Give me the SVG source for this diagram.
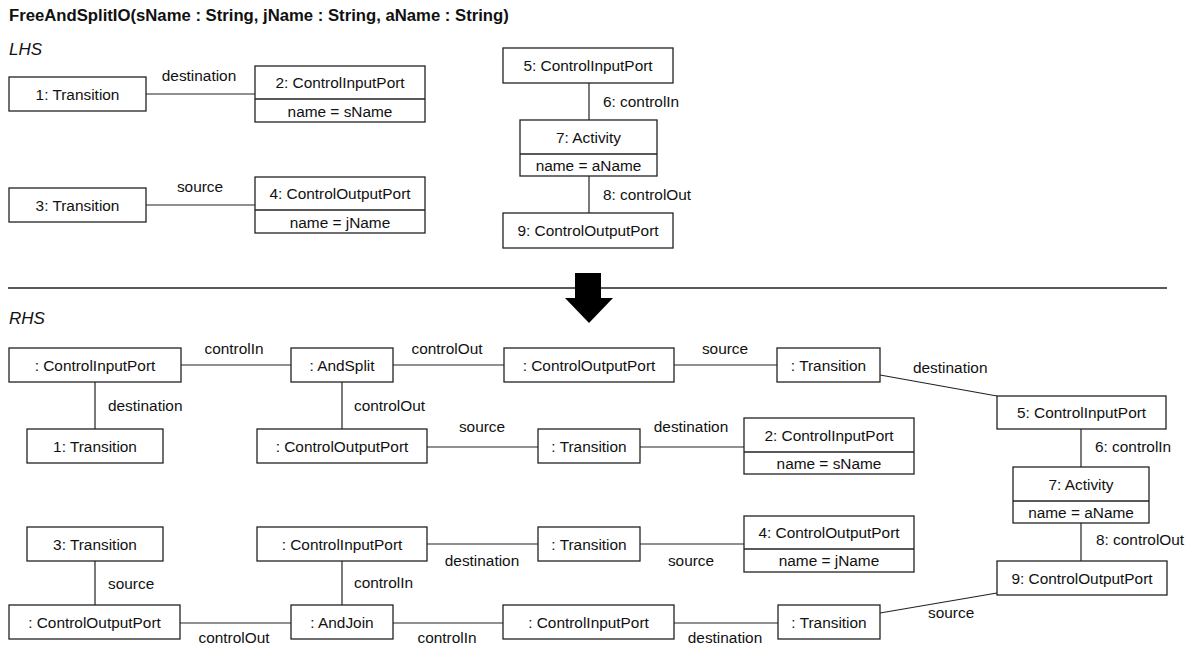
<svg xmlns="http://www.w3.org/2000/svg" width="1193" height="648" viewBox="0 0 1193 648">
<style>
text{font-family:"Liberation Sans",Arial,Helvetica,sans-serif;font-size:15.4px;fill:#111}
.t{text-anchor:middle}
.title{font-weight:bold;font-size:16.7px}
.sec{font-style:italic;font-size:17px}
rect{fill:#fff;stroke:#222;stroke-width:1.3}
.node line{stroke:#222;stroke-width:1.3}
#connectors line{stroke:#222;stroke-width:1.2}
</style>
<rect width="1193" height="648" style="fill:#fff;stroke:none"/>
<text x="9" y="21" class="title">FreeAndSplitIO(sName : String, jName : String, aName : String)</text>
<text x="9" y="55" class="sec">LHS</text>
<text x="9" y="324" class="sec">RHS</text>
<line x1="8" y1="288" x2="1167" y2="288" stroke="#222" stroke-width="1.3"/>
<polygon points="575,273 601,273 601,298 613,298 589,323 565,298 575,298" fill="#000"/>

<g id="connectors">
<line x1="146" y1="94" x2="255" y2="94"/>
<line x1="146" y1="205" x2="255" y2="205"/>
<line x1="589" y1="83" x2="589" y2="120"/>
<line x1="589" y1="176" x2="589" y2="213"/>
<line x1="181" y1="365" x2="291" y2="365"/>
<line x1="393" y1="365" x2="504" y2="365"/>
<line x1="674" y1="365" x2="777" y2="365"/>
<line x1="880" y1="375" x2="997" y2="396"/>
<line x1="95" y1="382" x2="95" y2="429"/>
<line x1="342" y1="382" x2="342" y2="429"/>
<line x1="427" y1="447" x2="538" y2="447"/>
<line x1="640" y1="447" x2="744" y2="447"/>
<line x1="1081" y1="429" x2="1081" y2="467"/>
<line x1="1081" y1="523" x2="1081" y2="561"/>
<line x1="95" y1="561" x2="95" y2="605"/>
<line x1="342" y1="561" x2="342" y2="605"/>
<line x1="427" y1="544" x2="538" y2="544"/>
<line x1="640" y1="544" x2="744" y2="544"/>
<line x1="180" y1="623" x2="291" y2="623"/>
<line x1="393" y1="623" x2="503" y2="623"/>
<line x1="674" y1="623" x2="778" y2="623"/>
<line x1="880" y1="613" x2="997" y2="593"/>
<text x="199" y="81" class="t">destination</text>
<text x="200" y="192" class="t">source</text>
<text x="603" y="107">6: controlIn</text>
<text x="603" y="200">8: controlOut</text>
<text x="234" y="354" class="t">controlIn</text>
<text x="447" y="354" class="t">controlOut</text>
<text x="725" y="354" class="t">source</text>
<text x="913" y="373">destination</text>
<text x="108" y="411">destination</text>
<text x="354" y="411">controlOut</text>
<text x="482" y="432" class="t">source</text>
<text x="691" y="432" class="t">destination</text>
<text x="1095" y="452">6: controlIn</text>
<text x="1096" y="545">8: controlOut</text>
<text x="108" y="589">source</text>
<text x="354" y="588">controlIn</text>
<text x="482" y="566" class="t">destination</text>
<text x="691" y="566" class="t">source</text>
<text x="234" y="643" class="t">controlOut</text>
<text x="447" y="643" class="t">controlIn</text>
<text x="725" y="643" class="t">destination</text>
<text x="928" y="618">source</text>
</g>

<g id="lhs1" class="node"><rect x="9" y="77" width="137" height="34"/><text x="77.5" y="99.5" class="t">1: Transition</text></g>
<g id="lhs2" class="node"><rect x="255" y="66" width="170" height="56"/><line x1="255" y1="99" x2="425" y2="99"/><text x="340" y="88" class="t">2: ControlInputPort</text><text x="340" y="116.5" class="t">name = sName</text></g>
<g id="lhs3" class="node"><rect x="9" y="188" width="137" height="34"/><text x="77.5" y="210.5" class="t">3: Transition</text></g>
<g id="lhs4" class="node"><rect x="255" y="177" width="170" height="56"/><line x1="255" y1="210" x2="425" y2="210"/><text x="340" y="199" class="t">4: ControlOutputPort</text><text x="340" y="227.5" class="t">name = jName</text></g>
<g id="lhs5" class="node"><rect x="503" y="48" width="170" height="35"/><text x="588" y="71" class="t">5: ControlInputPort</text></g>
<g id="lhs7" class="node"><rect x="520" y="120" width="137" height="56"/><line x1="520" y1="154" x2="657" y2="154"/><text x="588.5" y="142.5" class="t">7: Activity</text><text x="588.5" y="170.5" class="t">name = aName</text></g>
<g id="lhs9" class="node"><rect x="503" y="213" width="170" height="35"/><text x="588" y="236" class="t">9: ControlOutputPort</text></g>

<g id="rhs_cip1" class="node"><rect x="9" y="348" width="172" height="34"/><text x="95" y="370.5" class="t">: ControlInputPort</text></g>
<g id="rhs_andsplit" class="node"><rect x="291" y="348" width="102" height="34"/><text x="342" y="370.5" class="t">: AndSplit</text></g>
<g id="rhs_cop1" class="node"><rect x="504" y="348" width="170" height="34"/><text x="589" y="370.5" class="t">: ControlOutputPort</text></g>
<g id="rhs_tr1" class="node"><rect x="777" y="348" width="103" height="34"/><text x="828.5" y="370.5" class="t">: Transition</text></g>
<g id="rhs5" class="node"><rect x="997" y="396" width="169" height="33"/><text x="1081.5" y="418" class="t">5: ControlInputPort</text></g>
<g id="rhs1" class="node"><rect x="27" y="429" width="136" height="34"/><text x="95" y="451.5" class="t">1: Transition</text></g>
<g id="rhs_cop2" class="node"><rect x="257" y="429" width="170" height="34"/><text x="342" y="451.5" class="t">: ControlOutputPort</text></g>
<g id="rhs_tr2" class="node"><rect x="538" y="429" width="102" height="34"/><text x="589" y="451.5" class="t">: Transition</text></g>
<g id="rhs2" class="node"><rect x="744" y="418" width="170" height="56"/><line x1="744" y1="452" x2="914" y2="452"/><text x="829" y="440.5" class="t">2: ControlInputPort</text><text x="829" y="468.5" class="t">name = sName</text></g>
<g id="rhs7" class="node"><rect x="1013" y="467" width="136" height="56"/><line x1="1013" y1="501" x2="1149" y2="501"/><text x="1081" y="489.5" class="t">7: Activity</text><text x="1081" y="517.5" class="t">name = aName</text></g>
<g id="rhs9" class="node"><rect x="997" y="561" width="170" height="34"/><text x="1082" y="583.5" class="t">9: ControlOutputPort</text></g>
<g id="rhs3" class="node"><rect x="27" y="527" width="136" height="34"/><text x="95" y="549.5" class="t">3: Transition</text></g>
<g id="rhs_cip2" class="node"><rect x="257" y="527" width="170" height="34"/><text x="342" y="549.5" class="t">: ControlInputPort</text></g>
<g id="rhs_tr3" class="node"><rect x="538" y="527" width="102" height="34"/><text x="589" y="549.5" class="t">: Transition</text></g>
<g id="rhs4" class="node"><rect x="744" y="516" width="170" height="56"/><line x1="744" y1="549" x2="914" y2="549"/><text x="829" y="538" class="t">4: ControlOutputPort</text><text x="829" y="566" class="t">name = jName</text></g>
<g id="rhs_cop3" class="node"><rect x="9" y="605" width="171" height="34"/><text x="94.5" y="627.5" class="t">: ControlOutputPort</text></g>
<g id="rhs_andjoin" class="node"><rect x="291" y="605" width="102" height="34"/><text x="342" y="627.5" class="t">: AndJoin</text></g>
<g id="rhs_cip3" class="node"><rect x="503" y="605" width="171" height="34"/><text x="588.5" y="627.5" class="t">: ControlInputPort</text></g>
<g id="rhs_tr4" class="node"><rect x="778" y="605" width="102" height="34"/><text x="829" y="627.5" class="t">: Transition</text></g>
</svg>
